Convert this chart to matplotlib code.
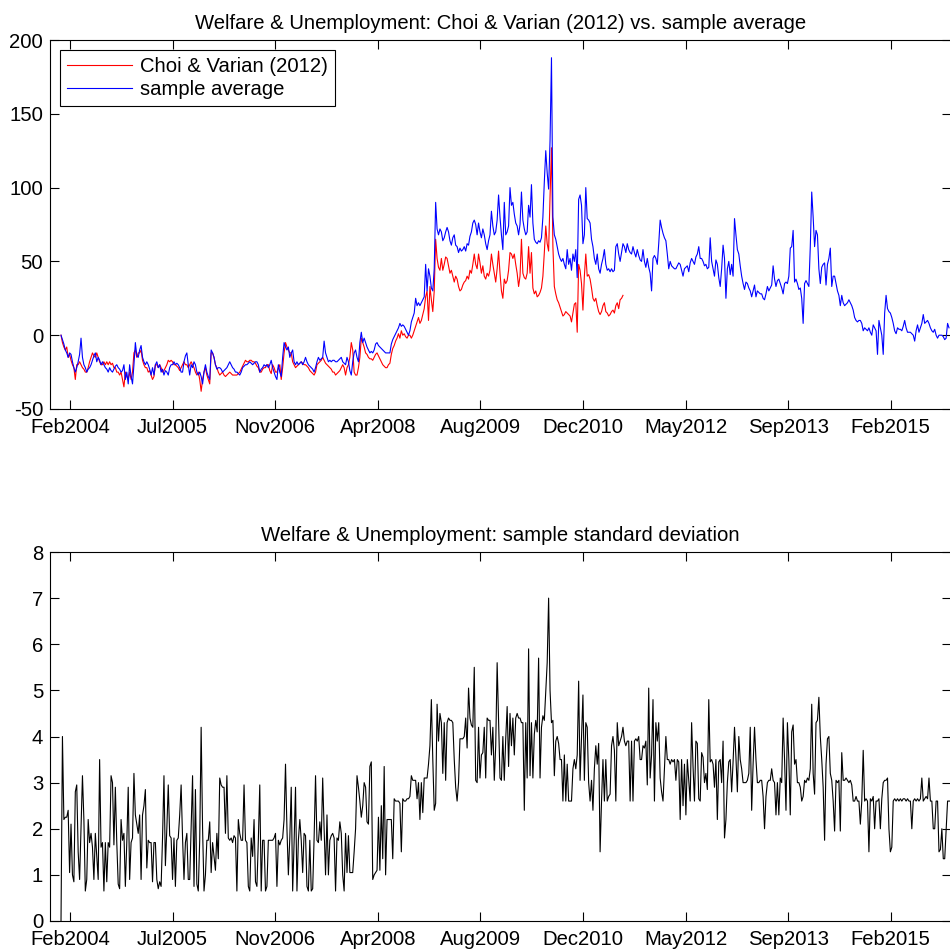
import numpy as np
import matplotlib
matplotlib.use("Agg")
import matplotlib.pyplot as plt

# weekly Google Trends style series, week 0 = first week of January 2004

# sample average (blue), one value per week
sample_average = [
    0, -3, -6, -10, -12, -15, -12, -13, -18, -22,
    -25, -22, -18, -13, -2, -15, -20, -22, -25, -23,
    -22, -20, -17, -14, -12, -18, -15, -17, -20, -18,
    -20, -22, -23, -25, -22, -24, -25, -23, -21, -20,
    -22, -23, -25, -24, -20, -30, -25, -33, -20, -28,
    -33, -20, -5, -14, -15, -10, -7, -15, -18, -20,
    -18, -20, -23, -27, -22, -27, -20, -18, -22, -20,
    -25, -23, -27, -24, -25, -27, -22, -20, -20, -18,
    -20, -19, -20, -22, -25, -25, -18, -14, -12, -20,
    -27, -20, -22, -18, -20, -25, -27, -25, -28, -33,
    -25, -20, -25, -28, -30, -10, -12, -15, -20, -23,
    -22, -22, -23, -25, -24, -23, -22, -20, -18, -20,
    -22, -23, -25, -25, -26, -27, -25, -22, -21, -20,
    -20, -19, -18, -19, -20, -19, -18, -18, -20, -25,
    -23, -22, -20, -21, -20, -22, -20, -17, -22, -25,
    -28, -30, -20, -25, -28, -15, -5, -8, -10, -8,
    -15, -12, -10, -18, -20, -18, -20, -19, -18, -20,
    -18, -15, -18, -20, -21, -22, -23, -25, -22, -18,
    -15, -17, -16, -15, -4, -12, -15, -18, -17, -18,
    -17, -17, -18, -18, -17, -16, -15, -18, -19, -20,
    -15, -18, -24, -27, -18, -12, -10, -15, -18, -5,
    2, -5, -2, -5, -8, -10, -12, -11, -12, -10,
    -6, -5, -7, -8, -9, -10, -11, -12, -12, -12,
    -12, -6, -3, -1, 1, 3, 5, 8, 6, 7,
    6, 4, 2, 0, 3, 9, 12, 15, 25, 20,
    22, 20, 22, 24, 26, 48, 30, 45, 40, 32,
    30, 45, 90, 72, 68, 72, 70, 64, 66, 70,
    73, 70, 64, 61, 66, 68, 61, 60, 56, 59,
    57, 58, 60, 57, 62, 61, 67, 70, 76, 78,
    75, 68, 76, 70, 66, 72, 68, 62, 58, 64,
    68, 84, 74, 68, 70, 78, 95, 80, 68, 58,
    90, 68, 70, 74, 100, 88, 90, 82, 76, 74,
    68, 75, 97, 78, 72, 68, 70, 88, 80, 102,
    76, 65, 63, 62, 64, 63, 66, 80, 104, 125,
    110, 99, 132, 188, 80, 68, 65, 60, 55, 52,
    50, 52, 48, 45, 58, 48, 52, 44, 55, 50,
    58, 39, 92, 95, 88, 62, 68, 100, 79, 78,
    76, 65, 60, 52, 48, 55, 45, 42, 48, 52,
    58, 48, 44, 45, 43, 45, 43, 44, 60, 62,
    55, 50, 56, 62, 60, 56, 62, 58, 56, 55,
    60, 56, 53, 58, 54, 51, 50, 58, 50, 46,
    52, 46, 42, 30, 52, 54, 52, 48, 62, 78,
    73, 69, 66, 64, 55, 45, 50, 47, 46, 45,
    45, 47, 49, 48, 44, 40, 45, 46, 47, 43,
    49, 52, 50, 48, 53, 55, 60, 52, 52, 50,
    47, 48, 45, 46, 66, 50, 45, 40, 51, 48,
    39, 33, 45, 61, 52, 25, 45, 50, 41, 48,
    40, 79, 68, 58, 55, 47, 40, 35, 31, 36,
    35, 32, 30, 26, 30, 34, 26, 30, 29, 28,
    28, 25, 24, 28, 33, 30, 32, 34, 47, 38,
    33, 37, 38, 35, 32, 28, 35, 36, 35, 40,
    59, 60, 71, 36, 38, 35, 31, 32, 25, 8,
    35, 37, 35, 33, 60, 97, 80, 60, 71, 68,
    45, 35, 46, 48, 49, 34, 48, 52, 59, 33,
    40, 40, 35, 30, 27, 20, 27, 22, 20, 21,
    22, 24, 22, 20, 17, 12, 10, 9, 10, 10,
    8, 3, 5, 4, 3, 5, 2, 0, 7, 5,
    3, -13, 10, 5, 0, -13, 15, 27, 18, 16,
    15, 12, 8, 3, 1, 5, 4, 4, 3, 6,
    10, 5, 2, 2, 2, 1, 0, -4, 3, 7,
    2, 5, 8, 14, 8, 9, 10, 8, 5, 3,
    2, 4, 0, -2, 0, 0, 0, -1, -3, -2,
    8, 5,
]

# Choi & Varian (2012) series (red), stops mid 2011
choi_varian = [
    0, -5, -8, -10, -8, -15, -13, -17, -20, -22,
    -30, -20, -20, -18, -20, -22, -23, -25, -25, -22,
    -18, -15, -12, -14, -15, -12, -15, -18, -20, -20,
    -18, -20, -18, -20, -18, -20, -19, -22, -22, -25,
    -25, -27, -25, -30, -35, -25, -28, -30, -25, -30,
    -25, -12, -10, -15, -12, -12, -10, -17, -20, -22,
    -22, -25, -24, -27, -30, -28, -20, -20, -22, -20,
    -22, -25, -24, -22, -20, -17, -18, -17, -18, -20,
    -20, -21, -22, -24, -22, -20, -18, -20, -20, -22,
    -20, -18, -20, -22, -25, -27, -25, -30, -38, -30,
    -25, -22, -27, -30, -33, -12, -12, -15, -20, -22,
    -25, -27, -26, -25, -27, -28, -27, -26, -25, -26,
    -27, -27, -27, -27, -26, -25, -23, -21, -19, -17,
    -18, -18, -17, -17, -18, -18, -19, -21, -22, -25,
    -25, -23, -22, -22, -20, -20, -24, -26, -20, -22,
    -25, -25, -22, -20, -30, -22, -12, -5, -8, -10,
    -12, -12, -18, -20, -22, -21, -20, -19, -18, -19,
    -20, -20, -21, -22, -24, -25, -26, -27, -25, -20,
    -19, -18, -17, -15, -17, -19, -20, -21, -22, -23,
    -25, -25, -27, -26, -25, -24, -22, -20, -22, -27,
    -22, -20, -15, -5, -10, -25, -27, -27, -22, -15,
    -2, -5, -8, -12, -13, -15, -16, -16, -17, -15,
    -13, -12, -14, -16, -18, -20, -21, -22, -22, -20,
    -19, -13, -9, -7, -4, -2, 1, -2, 3, 0,
    1, -1, -2, 0, 0, -2, 0, 3, 6, 9,
    12, 8, 10, 14, 18, 26, 30, 10, 33, 24,
    16, 30, 65, 52, 46, 44, 52, 44, 48, 53,
    52, 47, 42, 44, 40, 36, 40, 38, 33, 30,
    31, 34, 36, 37, 40, 38, 44, 42, 48, 55,
    48, 45, 55, 49, 42, 47, 40, 38, 42, 40,
    44, 55, 48, 42, 36, 45, 57, 42, 30, 25,
    38, 35, 37, 44, 56, 55, 52, 55, 48, 42,
    33, 40, 65, 42, 39, 38, 42, 60, 42, 56,
    32, 28, 30, 26, 27, 29, 32, 40, 56, 74,
    62, 57, 94, 127, 60, 33, 28, 24, 22, 19,
    16, 13, 14, 16, 15, 14, 13, 9, 15, 21,
    22, 2, 48, 44, 35, 17, 40, 55, 40, 41,
    38, 32, 25, 23, 25, 20, 16, 14, 16, 20,
    22, 16, 15, 13, 14, 16, 17, 15, 20, 22,
    18, 24, 25, 27,
]

# sample standard deviation (black)
sample_std = [
    0, 4.0, 2.2, 2.25, 2.25, 2.4, 1.05, 2.1, 1.0, 0.85,
    2.8, 2.95, 1.5, 0.9, 2.0, 3.15, 2.2, 0.65, 0.9, 2.2,
    1.7, 1.9, 1.6, 0.9, 1.9, 1.4, 0.9, 3.5, 1.6, 1.7,
    0.65, 1.7, 0.85, 1.7, 1.6, 3.15, 3.0, 1.65, 2.9, 1.7,
    0.8, 0.7, 2.2, 1.75, 1.9, 0.75, 1.7, 2.9, 0.9, 1.7,
    1.8, 3.2, 2.3, 2.1, 1.9, 2.3, 0.9, 2.3, 2.5, 2.85,
    1.15, 1.75, 1.7, 1.7, 0.85, 1.7, 1.7, 0.9, 0.7, 0.85,
    0.75, 1.8, 3.15, 1.2, 2.0, 2.95, 1.85, 1.8, 0.9, 1.8,
    0.75, 1.75, 1.8, 2.3, 2.95, 1.8, 0.9, 1.7, 1.9, 0.9,
    0.9, 2.0, 3.15, 0.75, 2.85, 0.8, 0.65, 1.75, 4.2, 2.0,
    0.65, 1.0, 1.75, 1.75, 2.15, 1.05, 1.7, 1.4, 1.1, 1.9,
    1.35, 3.1, 2.95, 2.9, 2.9, 1.9, 3.15, 1.8, 1.75, 1.8,
    1.7, 1.85, 1.8, 0.65, 2.2, 1.9, 1.75, 1.75, 2.95, 1.75,
    1.7, 0.75, 0.65, 1.8, 1.4, 2.2, 0.85, 0.75, 1.75, 2.95,
    0.65, 1.75, 1.75, 0.65, 0.75, 1.75, 1.75, 1.75, 1.75, 1.8,
    1.9, 0.75, 1.75, 1.65, 1.75, 1.8, 2.2, 3.4, 2.0, 1.0,
    1.8, 2.9, 0.65, 1.7, 2.9, 0.65, 1.75, 2.2, 1.75, 1.05,
    1.9, 1.85, 0.75, 0.65, 1.75, 0.65, 0.7, 1.8, 3.15, 1.75,
    1.7, 2.15, 1.75, 3.1, 2.0, 1.0, 2.3, 1.0, 1.75, 1.85,
    1.9, 1.8, 0.65, 1.8, 1.75, 2.15, 1.9, 1.0, 0.65, 1.9,
    1.05, 1.85, 1.05, 1.05, 1.05,
    1.5, 2.0, 3.15, 2.9, 2.6, 2.25, 2.5, 3.0, 2.9, 2.15,
    2.1, 3.35, 3.45, 0.9, 1.0, 1.05, 1.1, 2.25, 1.1, 2.5,
    1.35, 3.35, 1.0, 2.2, 2.2, 2.2, 2.2, 1.35, 2.65, 2.6,
    2.6, 2.6, 2.55, 1.5, 2.65, 2.6, 2.6, 2.65, 2.65, 2.7,
    3.15, 3.05, 3.05, 3.05, 2.65, 3.0, 2.2, 3.0, 2.35, 3.1,
    3.1, 3.1, 3.4, 3.8, 4.8, 3.5, 2.4, 2.55, 4.7, 3.9,
    4.5, 4.3, 3.2, 4.3, 3.05, 4.3, 4.4, 4.35, 4.35, 4.3,
    3.5, 2.9, 2.6, 3.0, 3.95, 3.95, 3.95, 4.0, 4.4, 3.75,
    5.05, 4.4, 4.25, 4.2, 5.5,
    3.05, 3.0, 4.2, 3.1, 3.6, 3.65, 4.2, 3.1, 4.4, 4.35,
    4.35, 3.6, 4.2, 3.05, 3.8, 5.6, 4.3, 3.1, 3.05, 4.0,
    3.05, 3.95, 4.65, 3.35, 4.5, 3.8, 4.4, 3.6, 4.4, 4.5,
    4.4, 4.4, 4.3, 4.3, 2.4, 4.3, 3.1, 5.9, 3.15, 4.3,
    3.1, 4.05, 4.35, 4.1, 5.7, 3.1, 4.2, 4.45, 4.35, 5.0,
    5.6, 7.0,
    5.0, 4.3, 4.35, 3.15, 3.9, 4.0, 3.85, 3.5, 3.5, 2.6,
    3.6, 2.6, 3.4, 2.6, 2.6, 2.6, 3.3, 3.5, 3.3, 3.6,
    5.2, 3.05, 4.0, 4.9, 3.05, 4.3, 4.2, 3.0, 2.6, 3.05,
    2.4, 3.3, 3.8, 3.4, 3.85, 1.5, 2.6, 3.5, 2.6, 3.5,
    2.6, 2.7, 2.75, 3.8, 4.0, 3.7, 2.6, 4.3, 3.8, 3.9,
    4.0, 4.2, 3.9, 3.8, 3.9, 3.9, 2.6, 3.9, 2.6, 3.9,
    3.95, 3.9, 4.0, 3.5, 3.5, 3.8, 3.75, 3.9, 2.95, 5.05,
    3.1, 3.6, 4.8, 2.6, 4.3, 3.9, 4.3, 3.1, 2.8, 2.6,
    3.3, 4.0, 3.5, 3.5, 3.4, 3.5, 3.45, 3.5, 3.05, 3.5,
    3.45, 2.2, 3.5, 2.5, 3.4, 2.3, 3.5, 3.05, 2.6, 4.3,
    3.35, 2.6, 3.9, 3.85, 2.65, 2.6, 3.65, 3.55, 3.0, 3.2,
    2.85, 4.8, 3.45, 3.5, 3.4, 2.9, 3.5, 2.2, 3.45, 3.5,
    3.0, 3.9, 1.8, 2.2, 3.0, 3.45, 3.5, 2.8, 3.45, 4.2,
    3.55, 2.8, 4.0, 3.5, 3.3, 3.0, 3.0, 3.0, 3.05, 3.2,
    4.2, 2.4, 3.4, 4.2, 3.5, 3.0, 3.0, 3.05, 3.05, 2.7,
    2.0, 2.7, 3.0, 3.05, 3.05, 3.3, 3.05, 3.0, 2.3, 3.0,
    2.3, 3.1, 3.0, 4.4, 3.5, 2.4, 4.3, 3.5, 2.3, 4.1,
    4.25, 3.4, 3.5, 3.0, 3.0, 2.9, 2.6, 2.7, 3.05, 3.0,
    3.1, 3.05, 3.3, 4.7, 3.2, 2.75, 4.3, 4.35, 4.85, 4.0,
    3.5, 2.9, 1.75, 3.4, 3.95, 4.0, 3.2, 3.05, 2.6, 1.95,
    3.05, 3.0, 3.05, 1.95, 3.65, 3.05, 3.05, 3.1, 3.05, 3.0,
    3.05, 2.95, 2.6, 2.6, 2.7, 2.6, 2.6, 2.1, 2.6, 3.7,
    2.6, 2.65, 2.6, 1.5, 2.65, 2.6, 2.7, 2.0, 2.6, 2.6,
    2.65, 2.0, 2.65, 3.0, 3.05, 3.05, 3.1, 2.0, 1.5, 1.6,
    2.6, 2.65, 2.6, 2.65, 2.6, 2.65, 2.6, 2.65, 2.65, 2.6,
    2.65, 2.6, 2.6, 2.0, 2.6, 2.65, 2.6, 2.65, 2.6, 2.65,
    3.1, 2.6, 2.65, 2.7, 2.65, 3.1, 2.6, 2.6, 2.0, 2.0,
    2.6, 2.6, 1.5, 1.55, 2.0, 1.35, 1.35, 2.0, 2.6, 2.6,
    2.6,
]

# date ticks (MATLAB datetick style, evenly spaced)
tick_labels = ['Feb2004', 'Jul2005', 'Nov2006', 'Apr2008', 'Aug2009',
               'Dec2010', 'May2012', 'Sep2013', 'Feb2015']
first_tick_week = 6.3
tick_step_weeks = 71.75

FS = 14.6
plt.rcParams['font.family'] = ['Liberation Sans', 'DejaVu Sans']
plt.rcParams['font.size'] = FS

W, H = 950, 952
fig = plt.figure(figsize=(W / 100, H / 100), dpi=100)

xticks = first_tick_week + tick_step_weeks * np.arange(len(tick_labels))
x_left, x_right = -7.7, 622.4


def style_axes(ax):
    ax.set_xlim(x_left, x_right)
    ax.set_xticks(xticks)
    ax.set_xticklabels(tick_labels)
    ax.tick_params(direction='in', length=6.5, width=0.8, top=True, right=True,
                   labelsize=FS, color='black')
    ax.tick_params(axis='x', pad=6.5)
    ax.tick_params(axis='y', pad=5)
    for s in ax.spines.values():
        s.set_linewidth(0.8)


# top panel
ax1 = fig.add_axes([50 / W, 1 - 409 / H, 901 / W, 369 / H])
ax1.plot(np.arange(len(choi_varian)), choi_varian, color='red', lw=0.8,
         label='Choi & Varian (2012)')
ax1.plot(np.arange(len(sample_average)), sample_average, color='blue', lw=0.8,
         label='sample average')
ax1.set_ylim(-50, 200)
ax1.set_yticks([-50, 0, 50, 100, 150, 200])
ax1.set_yticklabels(['-50', '0', '50', '100', '150', '200'])
style_axes(ax1)
ax1.set_title('Welfare & Unemployment: Choi & Varian (2012) vs. sample average',
              fontsize=FS, pad=8)
leg = ax1.legend(loc='upper left', bbox_to_anchor=(10 / 901, 1 - 10 / 369),
                 borderaxespad=0, fancybox=False, framealpha=1, edgecolor='black',
                 fontsize=FS, handlelength=3.2, handletextpad=0.4,
                 labelspacing=0.2, borderpad=0.35)
leg.get_frame().set_linewidth(0.8)

# bottom panel
ax2 = fig.add_axes([50 / W, 1 - 921 / H, 901 / W, 369 / H])
ax2.plot(np.arange(len(sample_std)), sample_std, color='black', lw=0.8)
ax2.set_ylim(0, 8)
ax2.set_yticks(range(0, 9))
style_axes(ax2)
ax2.set_title('Welfare & Unemployment: sample standard deviation',
              fontsize=FS, pad=8)

fig.savefig('out.png', dpi=100)
